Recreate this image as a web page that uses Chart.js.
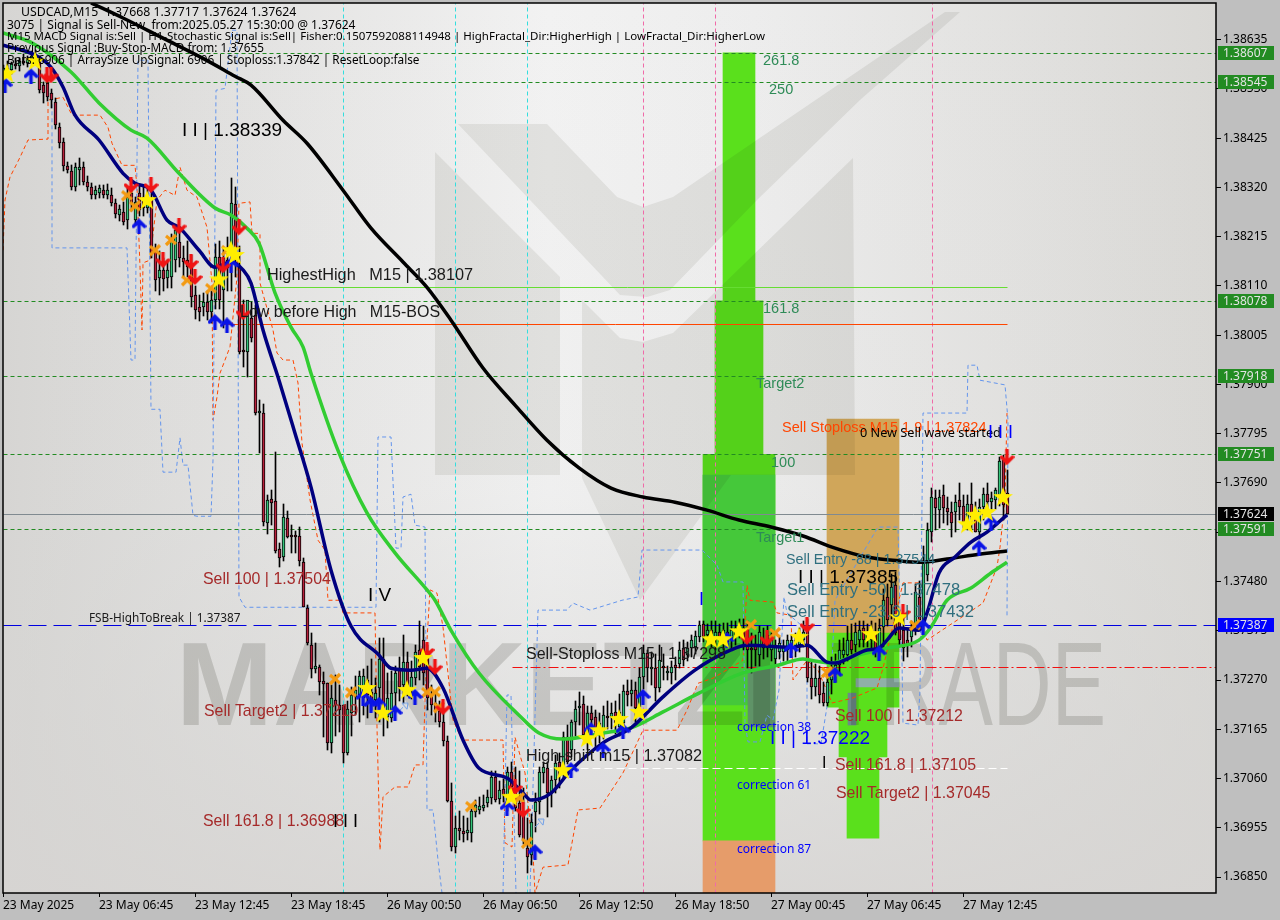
<!DOCTYPE html>
<html>
<head>
<meta charset="utf-8">
<title>USDCAD,M15</title>
<style>
  html, body { margin: 0; padding: 0; background: #bfbfbf; }
  canvas { display: block; }
</style>
<script src="https://cdn.jsdelivr.net/npm/chart.js@4"></script>
</head>
<body>
<canvas id="chart" width="1280" height="920"></canvas>
<script>
// all price series are in points above 1.30000 (8520 = 1.38520), x values are bar numbers

const opens = [
  8566,8574,8570,8583,8578,8590,8586,8596,8600,8591,
  8538,8542,8521,8502,8448,8416,8365,8355,8320,8357,
  8363,8331,8320,8303,8308,8314,8303,8303,8286,8261,
  8267,8250,8308,8250,8308,8299,8276,8293,8186,8127,
  8144,8127,8129,8165,8203,8169,8165,8150,8090,8065,
  8065,8075,8054,8080,8171,8101,8165,8180,8284,8150,
  7973,7969,8041,8048,7839,7839,7605,7656,7651,7549,
  7532,7615,7577,7577,7577,7521,7423,7345,7293,7298,
  7268,7263,7136,7227,7217,7217,7114,7200,7234,7238,
  7232,7270,7244,7227,7253,7315,7191,7189,7242,7291,
  7259,7308,7253,7274,7334,7355,7317,7238,7221,7204,
  7180,7140,7012,6914,6955,6948,6943,6944,6988,6993,
  6997,7008,7018,7063,7016,7038,7008,7074,7040,7008,
  6982,6912,6897,6989,7010,7072,7083,7029,7057,7095,
  7082,7148,7121,7180,7210,7219,7149,7200,7191,7159,
  7163,7193,7191,7202,7170,7178,7246,7240,7249,7212,
  7276,7327,7293,7296,7253,7297,7285,7285,7302,7304,
  7338,7323,7338,7340,7362,7389,7366,7376,7355,7372,
  7355,7372,7355,7366,7381,7381,7376,7338,7344,7323,
  7355,7366,7334,7315,7330,7330,7334,7345,7338,7345,
  7355,7376,7274,7255,7274,7242,7221,7270,7287,7302,
  7323,7323,7355,7345,7355,7381,7360,7355,7372,7338,
  7383,7447,7430,7472,7398,7376,7355,7361,7383,7447,
  7394,7494,7585,7658,7632,7664,7636,7628,7628,7653,
  7641,7607,7645,7626,7585,7638,7666,7649,7653,7664,
  7739,7668
];
const highs = [
  8581,8590,8588,8595,8596,8604,8600,8610,8612,8600,
  8545,8548,8530,8510,8458,8425,8375,8367,8372,8382,
  8375,8345,8330,8322,8325,8325,8327,8318,8296,8283,
  8288,8318,8330,8300,8325,8325,8318,8320,8200,8185,
  8170,8165,8220,8240,8232,8195,8205,8175,8110,8090,
  8095,8100,8100,8200,8205,8190,8215,8340,8320,8195,
  8080,8065,8075,8070,7866,7858,7664,7675,7756,7562,
  7645,7630,7600,7587,7596,7530,7430,7370,7349,7302,
  7287,7263,7259,7280,7260,7217,7225,7255,7278,7290,
  7293,7300,7315,7275,7360,7360,7285,7290,7300,7320,
  7365,7330,7310,7345,7395,7385,7345,7260,7245,7225,
  7200,7150,7050,6980,6990,6980,6975,6995,7015,7020,
  7025,7035,7075,7075,7055,7060,7085,7095,7085,7075,
  7040,6975,6985,7030,7085,7095,7095,7065,7110,7115,
  7160,7175,7185,7225,7245,7235,7215,7215,7205,7200,
  7215,7225,7220,7225,7240,7260,7270,7270,7265,7295,
  7345,7335,7330,7325,7345,7325,7300,7310,7320,7350,
  7355,7352,7365,7375,7395,7395,7390,7395,7395,7390,
  7392,7392,7395,7395,7400,7400,7395,7370,7365,7385,
  7380,7385,7370,7355,7362,7355,7365,7365,7370,7380,
  7395,7400,7310,7305,7300,7265,7290,7320,7325,7355,
  7360,7385,7390,7392,7395,7395,7390,7395,7392,7400,
  7465,7475,7495,7500,7420,7410,7380,7395,7475,7480,
  7555,7605,7680,7675,7675,7685,7660,7650,7665,7690,
  7665,7665,7690,7650,7655,7680,7690,7670,7680,7745,
  7750,7717
];
const lows = [
  8553,8560,8562,8572,8568,8580,8576,8586,8584,8522,
  8500,8505,8490,8445,8405,8355,8350,8314,8312,8325,
  8325,8312,8295,8295,8298,8298,8295,8280,8255,8248,
  8240,8232,8270,8240,8258,8260,8265,8170,8100,8090,
  8100,8105,8105,8140,8150,8130,8130,8065,8040,8035,
  8045,8038,8030,8060,8060,8020,8100,8100,8130,7965,
  7937,7915,7990,7835,7754,7598,7581,7600,7540,7511,
  7523,7572,7540,7540,7513,7425,7345,7274,7285,7238,
  7148,7121,7114,7150,7160,7093,7110,7150,7195,7180,
  7195,7190,7205,7190,7180,7150,7168,7180,7200,7225,
  7220,7235,7230,7260,7270,7260,7205,7195,7180,7170,
  7130,7010,6905,6902,6930,6925,6930,6925,6978,6985,
  6990,7000,7005,7010,7005,7010,6990,7020,6990,6935,
  6920,6858,6875,6945,6985,7050,6978,7000,7030,7040,
  7060,7090,7105,7150,7175,7145,7120,7155,7125,7135,
  7145,7165,7165,7155,7150,7165,7215,7215,7180,7195,
  7250,7265,7260,7225,7245,7270,7270,7262,7270,7295,
  7300,7310,7320,7325,7350,7350,7345,7340,7335,7350,
  7335,7340,7335,7345,7360,7335,7295,7285,7300,7300,
  7315,7320,7310,7300,7315,7310,7310,7320,7320,7330,
  7340,7265,7230,7235,7220,7215,7215,7240,7265,7285,
  7305,7310,7325,7330,7340,7340,7340,7330,7320,7320,
  7335,7385,7400,7365,7345,7310,7320,7340,7365,7385,
  7375,7480,7565,7590,7595,7605,7600,7575,7585,7610,
  7595,7590,7590,7585,7570,7610,7625,7630,7635,7640,
  7610,7624
];
const closes = [
  8574,8570,8583,8578,8590,8586,8596,8600,8592,8527,
  8521,8512,8506,8453,8414,8365,8357,8320,8363,8363,
  8331,8320,8303,8314,8318,8303,8314,8286,8263,8273,
  8246,8299,8286,8289,8271,8276,8297,8180,8122,8144,
  8124,8144,8208,8229,8169,8161,8150,8086,8058,8054,
  8075,8054,8080,8171,8080,8170,8148,8286,8165,7969,
  7969,8080,7999,7839,7843,7607,7654,7647,7545,7530,
  7617,7575,7575,7575,7523,7425,7349,7293,7300,7266,
  7261,7136,7232,7217,7206,7114,7208,7238,7249,7278,
  7278,7238,7227,7242,7315,7206,7232,7242,7285,7255,
  7308,7249,7276,7330,7298,7285,7232,7217,7206,7180,
  7140,7012,6914,6955,6948,6942,6950,6991,7003,7001,
  7003,7020,7063,7014,7035,7025,7074,7042,6997,6940,
  6929,6893,6967,7010,7074,7085,7029,7057,7093,7065,
  7148,7095,7180,7208,7214,7153,7200,7185,7159,7178,
  7195,7189,7200,7178,7202,7246,7238,7249,7210,7276,
  7327,7295,7296,7253,7312,7295,7287,7298,7295,7334,
  7312,7338,7355,7364,7387,7362,7376,7355,7372,7362,
  7376,7351,7376,7381,7387,7355,7334,7334,7334,7372,
  7338,7338,7355,7344,7349,7342,7355,7355,7355,7364,
  7372,7274,7255,7274,7238,7221,7266,7295,7302,7334,
  7334,7355,7334,7372,7376,7355,7372,7376,7334,7381,
  7440,7398,7468,7370,7355,7338,7345,7376,7457,7398,
  7519,7590,7660,7636,7660,7636,7628,7605,7649,7638,
  7607,7645,7617,7585,7638,7666,7649,7658,7675,7737,
  7643,7624
];

// moving averages
const slowBars = [22,30,40,50,58,62,70,76,85,92,100,106,112,120,128,136,144,152,160,168,176,184,192,200,208,216,224,229,236,244,251];
const slowMa = [8713,8681,8638,8595,8557,8538,8463,8414,8314,8233,8161,8107,8037,7935,7856,7781,7722,7679,7660,7649,7632,7611,7596,7577,7551,7532,7524,7521,7528,7538,7545];
const midBars = [0,7,17,24,32,36,44,53,57,61,64,68,72,75,77,84,91,98,106,108,112,119,129,134,140,150,157,165,174,185,194,200,202,207,212,221,229,232,236,242,247,251];
const midMa = [8649,8629,8566,8500,8442,8425,8350,8276,8261,8233,8201,8095,8022,7980,7924,7754,7626,7541,7462,7440,7376,7285,7195,7157,7144,7157,7168,7202,7242,7285,7302,7315,7312,7306,7319,7338,7355,7383,7440,7466,7498,7521];
const fastBars = [0,8,12,15,18,24,30,33,37,41,44,49,53,57,60,62,65,69,73,77,82,87,94,97,102,106,110,115,119,126,130,132,137,142,150,157,165,173,182,186,197,201,206,208,212,216,219,221,224,229,231,234,238,242,246,251];
const fastMa = [8623,8602,8576,8534,8474,8421,8350,8329,8314,8250,8235,8186,8150,8161,8144,8116,8016,7909,7796,7681,7504,7385,7323,7295,7291,7295,7253,7142,7082,7061,7029,7014,7029,7078,7136,7168,7234,7291,7334,7344,7340,7344,7308,7306,7319,7334,7338,7355,7381,7376,7413,7498,7532,7564,7585,7622];

// thin dashed channels, null breaks the line
const upperBars = [12.25,12.25,31,32,33,33.75,36.25,37,39.25,40,43.25,44.25,45,46.25,47.5,48.5,52,52.5,53.25,55.5,57.25,58.5,59,60.5,93.25,93.75,97,98.25,99.5,100,102,103,105.5,106,107.5,108.75,109.75,110,125,126,127,128.25,130,131.75,133.75,141,142.5,146.75,154.75,158.75,159.75,174.75,178.5,180,185,185.5,186.25,189.25,191,192.5,194,195.25,196,201,201,204.5,207,208,218.75,223.75,224.25,224.75,225,228.75,229.25,230,241,241.25,243.5,244.25,250.5,251.25,251];
const upperLevels = [8512,8191,8191,7952,7952,8591,8591,7847,7847,7713,7713,7786,7728,7728,7621,7619,7619,7739,8527,8531,8655,8655,7447,7425,7425,7788,7788,7551,7551,7660,7666,7600,7596,6993,6993,6886,6816,null,6816,7238,7238,6816,null,6816,7419,7419,7434,7419,7440,7447,7547,7547,7515,7479,7479,7178,7138,7138,7195,7185,7249,7447,7413,7376,7134,7134,7266,7440,7596,7596,7404,7312,7178,7174,7249,7839,7839,7941,7941,7909,7899,7824,7404];
const lowerBars = [0,0.5,1.75,4.25,6.25,11.25,11.25,15,17.25,24.25,26.25,27.25,29.75,33,33.5,34.25,34.75,35,36.75,38.5,40.5,43,44.25,46,48.5,51,52.25,52.5,53.5,54.25,56.75,58.5,59,61.75,62.25,64.25,64.25,67.5,68.5,70,72.5,73.75,74.75,76.75,78.75,80.5,81.25,84.25,85,93,93.5,94.25,95,98,101.25,103,105,106,106.75,108.5,110,112.5,114.75,125,125.5,127.25,128,130.5,132.5,133,135,141.25,143.75,149.25,155,160,168.5,171,173.75,177.5,185,186,186.75,192.5,193.5,197,197.5,201,203.75,207.25,212.25,218.5,220,225,229.75,230,231,245,248.5,249.25,250.5,251];
const lowerLevels = [8186,8293,8342,8384,8421,8423,8506,8512,8474,8474,8448,8414,8367,8367,8320,8150,8016,8159,8165,8293,8314,8303,8363,8314,8299,8235,8116,7824,7873,7924,7980,8129,8286,8289,8222,8222,8116,8016,7967,7952,7952,7903,7775,7654,7568,7547,7440,7440,7413,7413,7170,6908,7021,7042,7042,7089,7089,7355,7462,7455,7383,7185,7142,7142,6923,6914,7148,7072,6901,6816,6871,6876,6993,6997,7072,7163,7163,7206,7263,7274,7312,7472,7440,7436,7413,7408,7270,7312,7291,7221,7231,7253,7295,7477,7477,7383,7355,7434,7511,7553,7654,7839];

// signal markers
const sellBars = [11,12,32,37,44,40,47,48,55,59,60,106,108,110,128,130,186,191,201,225,251];
const sellLevels = [8559,8559,8325,8325,8237,8165,8161,8129,8154,8235,8054,7334,7298,7212,7042,6993,7362,7359,7387,7415,7745];
const buyBars = [0.5,7,34,53,56,57,90,92,94,98,103,126,133,142,150,155,147,160,181,197,208,219,230,244,247];
const buyLevels = [8538,8557,8237,8033,8026,8154,7232,7217,7217,7200,7234,6997,6903,7078,7121,7161,7163,7234,7355,7334,7281,7327,7383,7551,7604];
const starBars = [1,8,36,54,57,58,91,95,101,105,127,140,146,149,154,159,177,180,184,199,217,224,241,243,246,250];
const starLevels = [8563,8589,8293,8124,8186,8176,7253,7200,7249,7317,7021,7078,7146,7163,7187,7202,7357,7357,7374,7362,7368,7404,7602,7622,7628,7660];
const crossBars = [31,33,38,42,46,52,56,83,87,106,108,109,117,129,131,187,193,206,207,228];
const crossLevels = [8303,8280,8186,8208,8122,8105,8186,7272,7244,7244,7244,7212,7001,7018,6923,7387,7370,7287,7285,7387];
const hollowBars = [100,134];
const hollowLevels = [7212,6965];

// target zones, later ones paint over earlier ones
const zoneFrom = [180,178,175,175,175,186.25,206,206,209,211,213.25,211.25];
const zoneTo = [188,190,193,193,193,193,224,224,221,219,224,213.25];
const zoneHigh = [8607,8078,7751,7707,6927,7298,7826,7370,7212,7106,7273,7242];
const zoneLow = [8078,7751,6927,7217,6816,7170,7370,7212,7106,6933,7255,7174];
const zoneColors = ["#5ae01c","#5ae01c","#5ae01c","#45c83a","#e69c6a","#5f9367","#d0a65a","#5ae01c","#5ae01c","#5ae01c","#8fb0a8","#6d8a8a"];

// levels
const greenLevels = [8607,8545,8078,7918,7751,7591];
const cyanBars = [85,113,131];
const pinkBars = [160,178,232.25];

const yTicks = [8635,8530,8425,8320,8215,8110,8005,7900,7795,7690,7585,7480,7375,7270,7165,7060,6955,6850];
const xTickLabels = ["23 May 2025","23 May 06:45","23 May 12:45","23 May 18:45","26 May 00:50","26 May 06:50","26 May 12:50","26 May 18:50","27 May 00:45","27 May 06:45","27 May 12:45"];

const tagLevels = [8607,8545,8078,7918,7751,7624,7591,7387];
const tagColors = ["#228b22","#228b22","#228b22","#228b22","#228b22","#000000","#228b22","#0000ff"];

const infoLines = [
  "USDCAD,M15  1.37668 1.37717 1.37624 1.37624",
  "3075 | Signal is Sell-New  from:2025.05.27 15:30:00 @ 1.37624",
  "M15 MACD Signal is:Sell | H1-Stochastic Signal is:Sell| Fisher:0.1507592088114948 | HighFractal_Dir:HigherHigh | LowFractal_Dir:HigherLow",
  "Previous Signal :Buy-Stop-MACD from: 1.37655",
  "Bars: 6906 | ArraySize UpSignal: 6906 | Stoploss:1.37842 | ResetLoop:false"
];
const infoSizes = [12.3, 12, 11.5, 11.75, 11.75];

// chart notes: text, bar, level, colour, size, font
const BROWN = "#a52a2a", TEAL = "#2f6f7f", SEA = "#2e8b57", BLUE = "#0000ff", INK = "#1a1a1a";
const ARIAL = "'Liberation Sans'", NOTO = "'Noto Sans'";
const notes = [
  ["I I | 1.38339", 44.75, 8440, "#000", 19, ARIAL],
  ["HighestHigh   M15 | 1.38107", 66, 8133, INK, 16.3, ARIAL],
  ["Low before High   M15-BOS", 59.25, 8054, INK, 16, ARIAL],
  ["Sell 100 | 1.37504", 50, 7485, BROWN, 15.9, ARIAL],
  ["I V", 91.25, 7449, "#000", 19, ARIAL],
  ["FSB-HighToBreak | 1.37387", 21.5, 7400, INK, 11.8, NOTO],
  ["Sell Target2 | 1.37219", 50.25, 7202, BROWN, 15.9, ARIAL],
  ["Sell 161.8 | 1.36988", 50, 6969, BROWN, 15.9, ARIAL],
  ["I I I", 82.5, 6967, "#000", 18, ARIAL],
  ["Sell-Stoploss M15 | 1.37298", 130.75, 7325, INK, 16, ARIAL],
  ["High-shift m15 | 1.37082", 130.75, 7106, INK, 16.2, ARIAL],
  ["261.8", 190, 8589, SEA, 14.5, ARIAL],
  ["250", 191.5, 8527, SEA, 14.5, ARIAL],
  ["161.8", 190, 8061, SEA, 14.5, ARIAL],
  ["Target2", 188.25, 7901, SEA, 14.5, ARIAL],
  ["100", 192, 7732, SEA, 14.5, ARIAL],
  ["Target1", 188.25, 7573, SEA, 14.5, ARIAL],
  ["Sell Stoploss M15 1.9 | 1.37824", 194.75, 7807, "#ff4500", 14.5, ARIAL],
  ["0 New Sell wave started", 214.25, 7796, "#000", 12.7, NOTO],
  ["I I I", 246.25, 7796, BLUE, 18, ARIAL],
  ["Sell Entry -88 | 1.37544", 195.75, 7526, TEAL, 14.3, ARIAL],
  ["I I | 1.37385", 198.75, 7487, "#000", 19, ARIAL],
  ["Sell Entry -50 | 1.37478", 196, 7460, TEAL, 16.6, ARIAL],
  ["Sell Entry -23.6 | 1.37432", 196, 7415, TEAL, 16.6, ARIAL],
  ["I", 174, 7440, BLUE, 18, ARIAL],
  ["correction 38", 183.5, 7168, BLUE, 12, NOTO],
  ["correction 61", 183.5, 7044, BLUE, 12, NOTO],
  ["correction 87", 183.5, 6908, BLUE, 12, NOTO],
  ["I I | 1.37222", 191.75, 7144, BLUE, 19, ARIAL],
  ["I", 204.75, 7091, "#000", 16, ARIAL],
  ["Sell 100 | 1.37212", 208, 7193, BROWN, 15.9, ARIAL],
  ["Sell 161.8 | 1.37105", 208, 7087, BROWN, 15.9, ARIAL],
  ["Sell Target2 | 1.37045", 208.25, 7027, BROWN, 15.9, ARIAL]
];

const price = (v) => 1.3 + v / 100000;
const pairUp = (bars, levels) => bars.map((b, i) => ({ x: b, y: levels[i] === null ? null : price(levels[i]) }));
const PX_PER_BAR = 4;
const FONT = "'Noto Sans', sans-serif";

// marker sprites
function sprite(w, h, draw) {
  const c = document.createElement("canvas");
  c.width = w;
  c.height = h;
  draw(c.getContext("2d"));
  return c;
}
function arrow(ctx, color, up) {
  ctx.translate(7.5, 8);
  if (!up) ctx.scale(1, -1);
  ctx.strokeStyle = color;
  ctx.lineCap = "round";
  ctx.lineWidth = 3.5;
  ctx.beginPath();
  ctx.moveTo(-5.5, 0);
  ctx.lineTo(0, -5.5);
  ctx.lineTo(5.5, 0);
  ctx.moveTo(0, -5);
  ctx.lineTo(0, 7);
  ctx.stroke();
}
const buySprite = sprite(15, 16, (c) => arrow(c, "#0a14e6", true));
const sellSprite = sprite(15, 16, (c) => arrow(c, "#f01414", false));
const starSprite = sprite(24, 24, (c) => {
  c.translate(12, 12.5);
  c.fillStyle = "#ffee00";
  c.beginPath();
  for (let i = 0; i < 10; i++) {
    const r = i % 2 ? 4.2 : 10.5;
    const a = -Math.PI / 2 + (i * Math.PI) / 5;
    c.lineTo(r * Math.cos(a), r * Math.sin(a));
  }
  c.closePath();
  c.fill();
});
const crossSprite = sprite(14, 14, (c) => {
  c.strokeStyle = "#f39a12";
  c.lineWidth = 3.2;
  c.beginPath();
  c.moveTo(2, 3);
  c.lineTo(12, 11);
  c.moveTo(12, 2);
  c.lineTo(2, 12);
  c.stroke();
});
const hollowSprite = sprite(14, 14, (c) => {
  c.strokeStyle = "#6f9fe8";
  c.lineWidth = 1;
  c.beginPath();
  c.moveTo(3, 11);
  c.lineTo(7, 7);
  c.moveTo(6, 3);
  c.lineTo(12, 3);
  c.lineTo(11, 9);
  c.closePath();
  c.stroke();
});

// keep thin lines and candles on whole pixels, otherwise they smear over two columns
const snapToPixels = {
  id: "snapToPixels",
  afterDatasetsUpdate(chart) {
    chart.data.datasets.forEach((ds, i) => {
      if (!ds.snap) return;
      chart.getDatasetMeta(i).data.forEach((el) => {
        el.x = Math.round(el.x) + 0.5;
        if (ds.type === "bar") {
          el.y = Math.round(el.y);
          el.base = Math.round(el.base);
          if (el.base === el.y) el.base = el.y + 2;
          el.height = el.base - el.y;
        } else {
          el.y = Math.round(el.y) + 0.5;
        }
      });
    });
  }
};

// background, logo and watermark go under the marks
const backdrop = {
  id: "backdrop",
  beforeDatasetsDraw(chart) {
    const { ctx, chartArea: a } = chart;
    ctx.save();
    const g = ctx.createLinearGradient(a.left, 0, a.right, 0);
    g.addColorStop(0, "#d6d5d3");
    g.addColorStop(0.45, "#f2f2f2");
    g.addColorStop(0.62, "#ededed");
    g.addColorStop(1, "#d9d8d5");
    ctx.fillStyle = g;
    ctx.fillRect(a.left, a.top, a.right - a.left, a.bottom - a.top);
    const v = ctx.createLinearGradient(0, a.top, 0, a.bottom);
    v.addColorStop(0, "rgba(214,214,212,0)");
    v.addColorStop(0.55, "rgba(214,214,212,0.1)");
    v.addColorStop(1, "rgba(214,212,210,0.85)");
    ctx.fillStyle = v;
    ctx.fillRect(a.left, a.top, a.right - a.left, a.bottom - a.top);
    ctx.restore();
  },
  afterDatasetDraw(chart, args) {
    if (chart.data.datasets[args.index].label !== "zone-last") return;
    const { ctx, chartArea: a } = chart;
    ctx.save();
    ctx.beginPath();
    ctx.rect(a.left, a.top, a.right - a.left, a.bottom - a.top);
    ctx.clip();
    ctx.globalCompositeOperation = "multiply";
    const poly = (pts, color) => {
      ctx.fillStyle = color;
      ctx.beginPath();
      pts.forEach((p) => ctx.lineTo(p[0], p[1]));
      ctx.closePath();
      ctx.fill();
    };
    const logo = "#eeeeec";
    poly([[458,124],[547,124],[617,197],[643,207],[673,197],[945,12],[960,12],[860,100],[757,200],[670,290],[647,297],[620,295]], logo);
    poly([[435,152],[560,277],[560,475],[435,475]], logo);
    poly([[582,300],[620,338],[643,342],[673,333],[853,158],[855,475],[731,475],[640,600],[582,478]], logo);
    ctx.fillStyle = "#dcdcda";
    ctx.textBaseline = "alphabetic";
    ctx.font = "bold 118px 'Liberation Sans'";
    let w = ctx.measureText("MARKETZI").width;
    ctx.save();
    ctx.translate(176, 725);
    ctx.scale(602 / w, 1);
    ctx.fillText("MARKETZI", 0, 0);
    ctx.restore();
    ctx.font = "118px 'Liberation Sans'";
    w = ctx.measureText("TRADE").width;
    ctx.save();
    ctx.translate(830, 725);
    ctx.scale(276 / w, 1);
    ctx.fillText("TRADE", 0, 0);
    ctx.restore();
    ctx.restore();
  }
};

// frame, chart notes, info block and the price tags on the axis
const overlay = {
  id: "overlay",
  afterDatasetsDraw(chart) {
    const { ctx, chartArea: a, scales } = chart;
    ctx.save();
    ctx.beginPath();
    ctx.rect(a.left, a.top, a.right - a.left, a.bottom - a.top);
    ctx.clip();
    ctx.textBaseline = "middle";
    ctx.textAlign = "left";
    notes.forEach((n) => {
      ctx.fillStyle = n[3];
      ctx.font = n[4] + "px " + n[5];
      ctx.fillText(n[0], scales.x.getPixelForValue(n[1]), scales.y.getPixelForValue(price(n[2])));
    });
    ctx.fillStyle = "#000";
    const infoY = [12, 26, 37, 49, 61];
    infoLines.forEach((t, i) => {
      ctx.font = infoSizes[i] + "px " + FONT;
      ctx.fillText(t, i === 0 ? 21 : 7, infoY[i]);
    });
    ctx.restore();

    ctx.save();
    ctx.strokeStyle = "#000";
    ctx.lineWidth = 1.5;
    ctx.strokeRect(a.left, a.top, a.right - a.left, a.bottom - a.top);
    ctx.textBaseline = "middle";
    ctx.font = "12px " + FONT;
    tagLevels.forEach((v, i) => {
      const y = Math.round(scales.y.getPixelForValue(price(v)));
      ctx.fillStyle = tagColors[i];
      ctx.fillRect(a.right + 2, y - 7, 56, 14);
      ctx.fillStyle = "#e4e4e4";
      ctx.fillText(price(v).toFixed(5), a.right + 7, y + 0.5);
    });
    ctx.restore();
  }
};

function lineSet(data, color, width, dash, order) {
  return { type: "line", data, borderColor: color, borderWidth: width, borderDash: dash || [],
    pointRadius: 0, tension: 0, fill: false, order };
}
function maLine(bars, levels, color, order) {
  return Object.assign(lineSet(pairUp(bars, levels), color, 3.5, [], order), { cubicInterpolationMode: "monotone" });
}
function level(v, from, to, color, width, dash, order) {
  const ds = lineSet([{ x: from, y: price(v) }, { x: to, y: price(v) }], color, width, dash, order);
  ds.snap = true;
  return ds;
}
function vertical(b, color, order) {
  const ds = lineSet([{ x: b, y: price(6816) }, { x: b, y: price(8713) }], color, 1, [4, 3], order);
  ds.snap = true;
  return ds;
}
function markers(bars, levels, img, order) {
  return { type: "line", data: pairUp(bars, levels), showLine: false, pointStyle: img, pointRadius: 8,
    pointHoverRadius: 8, order };
}

const datasets = [];

// zones, order 100 is painted first
zoneFrom.forEach((f, i) => {
  datasets.push({
    type: "bar",
    label: i === zoneFrom.length - 1 ? "zone-last" : "zone",
    data: [{ x: (f + zoneTo[i]) / 2, y: [price(zoneLow[i]), price(zoneHigh[i])] }],
    backgroundColor: zoneColors[i],
    barThickness: (zoneTo[i] - f) * PX_PER_BAR,
    grouped: false,
    order: 100 - i * 0.1
  });
});

cyanBars.forEach((b) => datasets.push(vertical(b, "#33dede", 80)));
pinkBars.forEach((b) => datasets.push(vertical(b, "#f06aa8", 80)));

datasets.push(lineSet(pairUp(upperBars, upperLevels), "#6495ed", 1, [4, 3], 70));
datasets.push(lineSet(pairUp(lowerBars, lowerLevels), "#ff4500", 1, [4, 3], 70));

greenLevels.forEach((v) => datasets.push(level(v, 0, 303.25, "#228b22", 1, [4, 3], 60)));
datasets.push(level(7624, 0, 303.25, "#808a90", 1, [], 60));
datasets.push(level(7387, 0, 303.25, "#0000e0", 1, [18, 7], 60));
datasets.push(level(7298, 127.25, 303.25, "#f01010", 1, [10, 3, 2, 3], 60));
datasets.push(level(7082, 129.25, 251, "#ffffff", 1, [8, 4], 60));
datasets.push(level(8107, 61, 251, "#66dd33", 1, [], 60));
datasets.push(level(8028, 55, 251, "#ff4500", 1, [], 60));

// candles
const candleBars = opens.map((_, i) => i);
datasets.push({
  type: "bar",
  data: candleBars.map((i) => ({ x: i, y: [price(lows[i]), price(highs[i])] })),
  backgroundColor: "#000",
  barThickness: 1,
  grouped: false,
  snap: true,
  order: 50
});
datasets.push({
  type: "bar",
  data: candleBars.map((i) => ({ x: i, y: [price(Math.min(opens[i], closes[i])), price(Math.max(opens[i], closes[i]))] })),
  backgroundColor: candleBars.map((i) => (closes[i] >= opens[i] ? "#35c47a" : "#b8203c")),
  borderColor: "#000",
  borderWidth: 1,
  borderSkipped: false,
  barThickness: 3,
  minBarLength: 2,
  grouped: false,
  snap: true,
  order: 49
});

datasets.push(maLine(slowBars, slowMa, "#000000", 40));
datasets.push(maLine(midBars, midMa, "#32cd32", 39));
datasets.push(maLine(fastBars, fastMa, "#00007f", 38));

datasets.push(markers(hollowBars, hollowLevels, hollowSprite, 30));
datasets.push(markers(crossBars, crossLevels, crossSprite, 29));
datasets.push(markers(buyBars, buyLevels, buySprite, 28));
datasets.push(markers(sellBars, sellLevels, sellSprite, 27));
datasets.push(markers(starBars, starLevels, starSprite, 26));

new Chart(document.getElementById("chart"), {
  type: "bar",
  data: { datasets },
  plugins: [snapToPixels, backdrop, overlay],
  options: {
    responsive: false,
    devicePixelRatio: 1,
    animation: false,
    events: [],
    // the marks reach the frame, so the left and top edges need no automatic room
    layout: { autoPadding: false, padding: { left: 3, top: 3, right: 0, bottom: 0 } },
    plugins: { legend: { display: false }, tooltip: { enabled: false }, title: { display: false } },
    scales: {
      x: {
        type: "linear",
        offset: false,
        min: 0,
        max: 303.25,
        grid: { offset: false, drawOnChartArea: false, tickLength: 4, tickColor: "#000" },
        border: { display: false },
        afterBuildTicks(scale) {
          scale.ticks = xTickLabels.map((_, i) => ({ value: i * 24 }));
        },
        afterFit(scale) {
          scale.height = 27;
          scale.paddingLeft = scale.paddingRight = 0;
        },
        ticks: {
          autoSkip: false,
          maxRotation: 0,
          align: "start",
          padding: 1,
          color: "#000",
          font: { family: FONT, size: 12 },
          callback: (v) => xTickLabels[Math.round(v / 24)]
        }
      },
      y: {
        position: "right",
        min: price(6816),
        max: price(8713),
        grid: { drawOnChartArea: false, tickLength: 5, tickColor: "#000" },
        border: { display: false },
        afterBuildTicks(scale) {
          scale.ticks = yTicks.map((v) => ({ value: price(v) }));
        },
        afterFit(scale) {
          scale.width = 64;
          scale.paddingTop = scale.paddingBottom = 0;
        },
        ticks: {
          autoSkip: false,
          padding: 2,
          color: "#000",
          font: { family: FONT, size: 12 },
          callback: (v) => v.toFixed(5)
        }
      }
    }
  }
});
</script>
</body>
</html>
